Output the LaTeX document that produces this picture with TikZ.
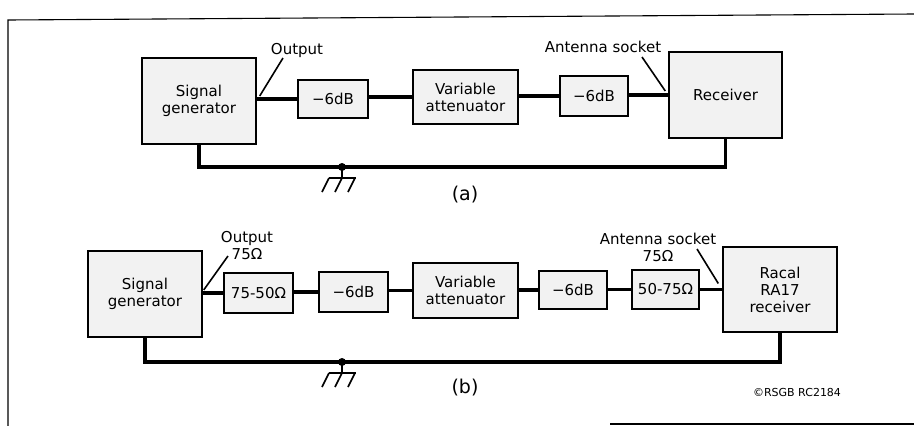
\documentclass[tikz,border=0pt]{standalone}
\usepackage{fontspec}
\setmainfont{DejaVu Sans}
\begin{document}
\begin{tikzpicture}[x=1pt,y=-1pt,
  unit/.style={draw, line width=1.4pt, fill=black!5, align=center, inner sep=0pt, font=\fontsize{15}{17}\selectfont},
  lbl/.style={align=center, inner sep=0pt, font=\fontsize{15}{17}\selectfont},
  wire/.style={line width=3.2pt},
  pointer/.style={line width=1.6pt},
  frame/.style={line width=1.1pt}]
\useasboundingbox (0,0) rectangle (914,426);
% frame
\draw[frame] (8,426) -- (8,20) -- (914,14);
\draw[frame] (610,424) -- (914,424);
% (a)
\node[unit, minimum width=114, minimum height=86] (sga) at (199,101) {Signal\\generator};
\node[unit, minimum width=70, minimum height=38] (dba1) at (333,99) {−6dB};
\node[unit, minimum width=105, minimum height=54] (vaa) at (465.5,97) {Variable\\attenuator};
\node[unit, minimum width=68, minimum height=40] (dba2) at (594,96) {−6dB};
\node[unit, minimum width=113, minimum height=86] (rxa) at (725.5,95) {Receiver};
\node[lbl] (outa) at (297,50) {Output};
\node[lbl] (anta) at (603,47) {Antenna socket};
\node[lbl, font=\fontsize{19}{21}\selectfont] (capa) at (465,195) {(a)};
\coordinate (gnda) at (342,167);
\draw[wire] (sga.east |- dba1) -- (dba1.west);
\draw[wire] (dba1.east |- vaa) -- (vaa.west);
\draw[wire] (vaa.east |- dba2) -- (dba2.west);
\draw[wire] (dba2.east |- rxa) -- (rxa.west);
\draw[wire] (sga.south) |- (gnda) -| (rxa.south);
\draw[pointer] ([shift={(-14,8)}]outa.center) -- ([shift={(3,-5)}]sga.east);
\draw[pointer] ([shift={(39,10)}]anta.center) -- ([shift={(-3,-4)}]rxa.west);
% (b)
\node[unit, minimum width=114, minimum height=86] (sgb) at (145,294) {Signal\\generator};
\node[unit, minimum width=69, minimum height=40] (mta) at (258.5,293) {75-50Ω};
\node[unit, minimum width=69, minimum height=40] (dbb1) at (353.5,292) {−6dB};
\node[unit, minimum width=105, minimum height=55] (vab) at (465.5,290.5) {Variable\\attenuator};
\node[unit, minimum width=68, minimum height=38] (dbb2) at (573,290) {−6dB};
\node[unit, minimum width=67, minimum height=39] (mtb) at (665.5,289.5) {50-75Ω};
\node[unit, minimum width=114, minimum height=85] (rxb) at (780,289.5) {Racal\\RA17\\receiver};
\node[lbl] (outb) at (247,246) {Output\\75Ω};
\node[lbl] (antb) at (658,247) {Antenna socket\\75Ω};
\node[lbl, font=\fontsize{19}{21}\selectfont] (capb) at (465,388) {(b)};
\node[lbl, font=\fontsize{11}{13}\selectfont] (copy) at (797,392) {©RSGB RC2184};
\coordinate (gndb) at (342,362);
\draw[wire] (sgb.east |- mta) -- (mta.west);
\draw[wire] (mta.east |- dbb1) -- (dbb1.west);
\draw[wire] (dbb1.east |- vab) -- (vab.west);
\draw[wire] (vab.east |- dbb2) -- (dbb2.west);
\draw[wire] (dbb2.east |- mtb) -- (mtb.west);
\draw[wire] (mtb.east |- rxb) -- (rxb.west);
\draw[wire] (sgb.south) |- (gndb) -| (rxb.south);
\draw[pointer] ([shift={(-19,10)}]outb.center) -- ([shift={(1,-4)}]sgb.east);
\draw[pointer] ([shift={(39,2)}]antb.center) -- ([shift={(-4,-6)}]rxb.west);
% earth symbols
\foreach \g in {gnda,gndb}
{
\fill (\g) circle (4);
\draw[pointer] (\g) -- ++(0,11) ++(-13,0) -- ++(27,0);
\foreach \h in {-13,0,13}
  \draw[pointer] ([shift={(\h,11)}]\g) -- ++(-7,14);
}
\end{tikzpicture}
\end{document}
